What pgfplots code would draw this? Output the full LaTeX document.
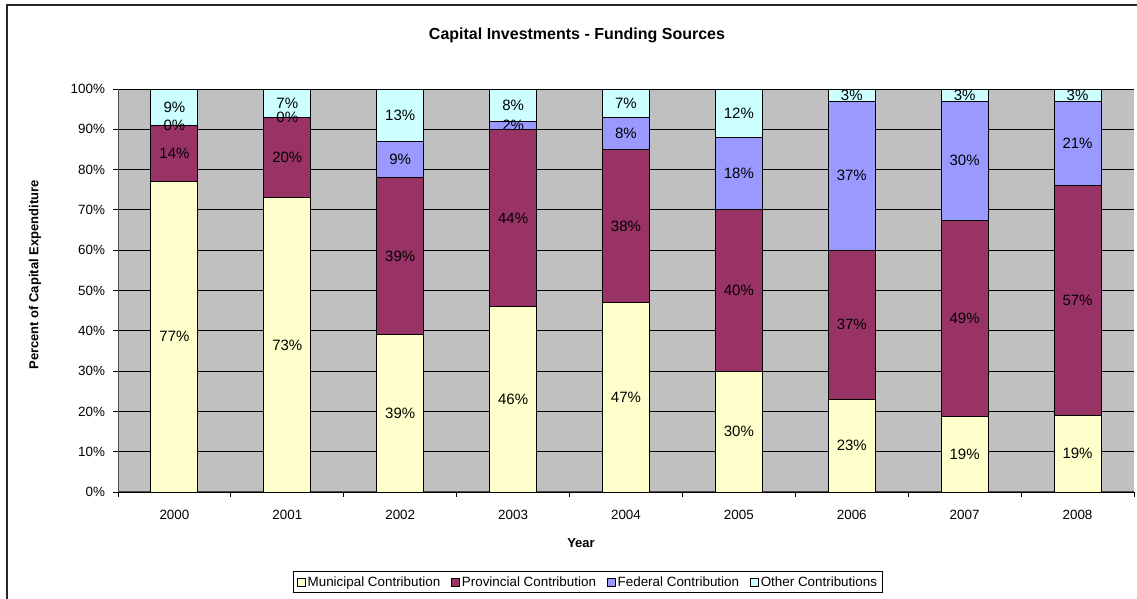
\documentclass[border=0pt]{standalone}
\usepackage{pgfplots}
\usepackage{pgfplotstable}
\pgfplotsset{compat=1.18}
\usepackage{fontspec}
\setmainfont{Liberation Sans}

\definecolor{muni}{HTML}{FFFFCC}
\definecolor{prov}{HTML}{993366}
\definecolor{fed}{HTML}{9999FF}
\definecolor{oth}{HTML}{CCFFFF}
\definecolor{plotbg}{HTML}{C0C0C0}
\newcommand\lbl{\fontsize{13.4}{16}\selectfont}
\newcommand\barlbl{\fontsize{15}{17}\selectfont}

% share of capital expenditure, percent
\pgfplotstableread{
x    muni  prov  fed   oth
0    77    14    0     9
1    73    20    0     7
2    39    39    9     13
3    46    44    2     8
4    47    38    8     7
5    30    40    18    12
6    23    37    37    3
7    18.7  48.7  29.6  3
8    19    57    21    3
}\funding

\pgfplotsset{
  base/.style={
    at={(118pt,107pt)}, anchor=south west,
    scale only axis, width=1016pt, height=403pt,
    ybar stacked, bar width=47pt, stacked ignores zero=false,
    xmin=-0.5, xmax=8.5, ymin=0, ymax=100,
    /pgf/number format/assume math mode=true,
  },
  seg/.style={draw=black, line width=0.9pt, fill=#1},
}

\begin{document}
\begin{tikzpicture}
\useasboundingbox (0pt,0pt) rectangle (1137pt,599pt);
\draw[line width=1.2pt, black!85] (7pt,0pt) -- (7pt,594pt) -- (1137pt,594pt);

\node[font=\bfseries\fontsize{16}{18}\selectfont] at (577pt,564pt) {Capital Investments - Funding Sources};
\node[font=\bfseries\fontsize{13}{15}\selectfont, rotate=90] at (35pt,324pt) {Percent of Capital Expenditure};
\node[font=\bfseries\fontsize{13}{15}\selectfont] at (581pt,56pt) {Year};

\begin{axis}[base,
  axis background/.style={fill=plotbg},
  axis lines=left, axis line style={-, line width=1pt, black!70},
  tick align=outside, major tick length=5pt, minor tick length=5pt,
  xtick={0,...,8},
  xticklabels={2000,2001,2002,2003,2004,2005,2006,2007,2008},
  minor xtick={-0.5,0.5,...,8.5},
  major x tick style={draw=none},
  minor x tick style={line width=0.8pt, black},
  ytick={0,10,...,100},
  y tick style={line width=0.8pt, black},
  yticklabel={\pgfmathprintnumber{\tick}\%},
  ymajorgrids, major grid style={black, line width=0.9pt},
  tick label style={font=\lbl},
  xticklabel style={yshift=-10pt},
  yticklabel style={xshift=-4.5pt},
  legend style={at={(0.4626,-0.196)}, anchor=north, legend columns=4,
    draw=black, line width=1pt, font=\lbl, inner sep=3pt,
    /tikz/every even column/.append style={column sep=9pt}},
  legend image code/.code={\draw[#1, line width=0.7pt, draw=black] (0pt,-4pt) rectangle (8pt,4pt);},
]
\addplot[seg=muni] table[x=x, y=muni] {\funding};
\addplot[seg=prov] table[x=x, y=prov] {\funding};
\addplot[seg=fed]  table[x=x, y=fed]  {\funding};
\addplot[seg=oth]  table[x=x, y=oth]  {\funding};
\legend{Municipal Contribution, Provincial Contribution, Federal Contribution, Other Contributions}
\end{axis}

% second pass: segment labels above all bars
\begin{axis}[base, hide axis,
  nodes near coords={\pgfmathprintnumber[fixed,precision=0]{\rawy}\%},
  visualization depends on=rawy \as \rawy,
  every node near coord/.append style={font=\barlbl, anchor=center, inner sep=0pt},
]
\addplot[draw=none, fill=none] table[x=x, y=muni] {\funding};
\addplot[draw=none, fill=none] table[x=x, y=prov] {\funding};
\addplot[draw=none, fill=none] table[x=x, y=fed]  {\funding};
\addplot[draw=none, fill=none] table[x=x, y=oth]  {\funding};
\end{axis}
\end{tikzpicture}
\end{document}
